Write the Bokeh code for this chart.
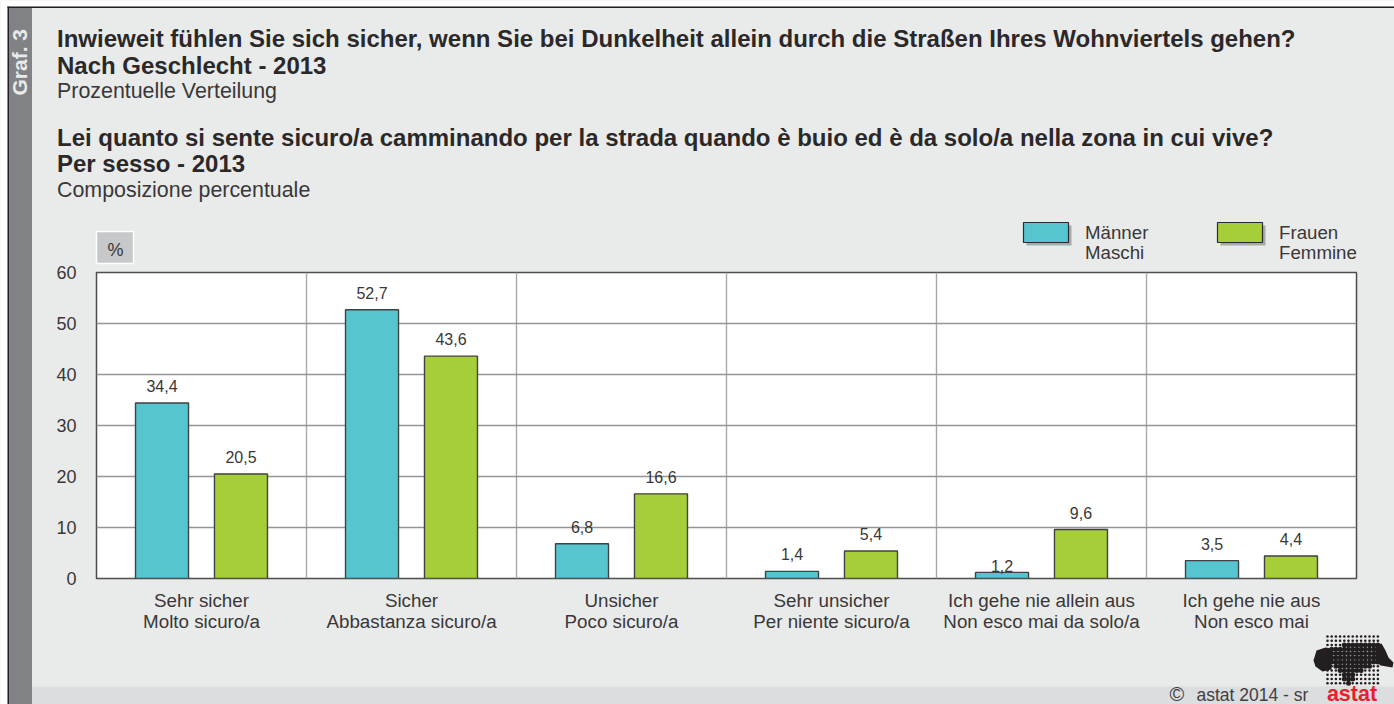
from bokeh.plotting import figure
from bokeh.layouts import column
from bokeh.models import ColumnDataSource, Range1d, FixedTicker
from bokeh.embed import file_html
from bokeh.resources import INLINE
from bokeh.core.properties import value

categories = ["Sehr sicher\nMolto sicuro/a", "Sicher\nAbbastanza sicuro/a", "Unsicher\nPoco sicuro/a",
              "Sehr unsicher\nPer niente sicuro/a", "Ich gehe nie allein aus\nNon esco mai da solo/a",
              "Ich gehe nie aus\nNon esco mai"]
maenner = [34.4, 52.7, 6.8, 1.4, 1.2, 3.5]
frauen = [20.5, 43.6, 16.6, 5.4, 9.6, 4.4]
y_ticks = [0, 10, 20, 30, 40, 50, 60]

FONT = "Liberation Sans"
INK = "#2b2829"
SOFT = "#3a3738"
TEAL = "#56c5d0"
GREEN = "#a6ce39"

# ---------- page backdrop: a figure whose frame is the whole page, in page pixels
bg = figure(width=1394, height=704, output_backend="svg", toolbar_location=None,
            x_range=Range1d(0, 1394), y_range=Range1d(704, 0),
            x_axis_location=None, y_axis_location=None, frame_align=False,
            min_border=0, background_fill_color="#e9ebea", border_fill_color="#e9ebea", outline_line_color=None)
bg.grid.visible = False


def box(l, r, t, b, color, line=None, lw=1):
    bg.quad(left=[l], right=[r], top=[t], bottom=[b], fill_color=color, line_color=line, line_width=lw)


def label(x, y, text, size, bold=False, color=SOFT, align="left", angle=0):
    bg.text(x=[x], y=[y], text=[text], text_font=value(FONT), text_font_size=f"{size}px",
            text_font_style="bold" if bold else "normal", text_color=color, text_align=align,
            text_baseline="middle", angle=angle, angle_units="deg")


box(0, 1394, 0, 6, "white")
box(0, 7, 0, 704, "white")
box(7, 1394, 6, 7.5, "#231f20")
box(7, 8.5, 6, 704, "#231f20")
box(8.5, 31.5, 7.5, 704, "#808285")
box(31.5, 1394, 686, 704, "#dcddde")
label(19, 95, "Graf. 3", 21, bold=True, color="#e9ebea", angle=90)

T = 24
label(56.5, 38, "Inwieweit fühlen Sie sich sicher, wenn Sie bei Dunkelheit allein durch die Straßen Ihres Wohnviertels gehen?", T, True, INK)
label(56.5, 65, "Nach Geschlecht - 2013", T, True, INK)
label(56.5, 90, "Prozentuelle Verteilung", 21.4)
label(56.5, 137, "Lei quanto si sente sicuro/a camminando per la strada quando è buio ed è da solo/a nella zona in cui vive?", T, True, INK)
label(56.5, 163, "Per sesso - 2013", T, True, INK)
label(56.5, 189, "Composizione percentuale", 21.4)

box(96, 133, 231, 263, "#c7c8ca", line="white", lw=1.5)
label(115, 249, "%", 18, align="center")

for x0, col, l1, l2 in ((1023, TEAL, "Männer", "Maschi"), (1217, GREEN, "Frauen", "Femmine")):
    box(x0 + 3, x0 + 48, 225, 245, "#a7a9ac")
    box(x0, x0 + 45, 222, 242, col, line="#2b2b2b", lw=1.2)
    label(x0 + 61.5, 232, l1, 18.7)
    label(x0 + 61.5, 252, l2, 18.7)

label(1169, 693, "©", 20, color="#414042")
label(1196, 694.5, "astat 2014 - sr", 17.5, color="#414042")

# logo
LOGO = "#231f20"
for xs, ys in (([1313, 1316, 1325, 1331, 1331, 1322, 1315], [660, 650, 647, 648, 669, 671, 666]),
               ([1375, 1381, 1385, 1388, 1393, 1392, 1380, 1375], [645, 643, 650, 657, 662, 667, 665, 660])):
    bg.patch(xs, ys, fill_color=LOGO, line_color=None)
spans = {2: (1340, 1378), 3: (1329, 1378), 4: (1329, 1378), 5: (1329, 1378), 6: (1329, 1378),
         7: (1333, 1372), 8: (1337, 1362), 9: (1341, 1356), 10: (1343, 1353), 11: (1345, 1351)}
dx, dy, ds = [], [], []
for r in range(12):
    for c in range(13):
        cx = 1327 + c * 4.2
        lo, hi = spans.get(r, (9999, 0))
        dx.append(cx)
        dy.append(636 + r * 4.25)
        ds.append(5 if lo <= cx <= hi else 2.6)
bg.scatter(dx, dy, size=ds, marker="circle", fill_color=LOGO, line_color=None)
label(1351.5, 693, "astat", 21.5, True, color="#ed1c2e", align="center")

# ---------- the chart itself, laid over the backdrop
p = figure(width=1394, height=704, output_backend="svg", toolbar_location=None,
           x_range=Range1d(0, 6), y_range=Range1d(0, 60), frame_align=False,
           min_border_left=96, min_border_right=38, min_border_top=272, min_border_bottom=126,
           background_fill_color="white", border_fill_color=None,
           outline_line_color="#4d4d4d", outline_line_width=1.5)
p.margin = (-704, 0, 0, 0)

p.xaxis.ticker = FixedTicker(ticks=[i + 0.5 for i in range(6)])
p.xaxis.major_label_overrides = {i + 0.5: c for i, c in enumerate(categories)}
p.yaxis.ticker = FixedTicker(ticks=y_ticks)
for ax in (p.xaxis[0], p.yaxis[0]):
    ax.axis_line_color = None
    ax.major_tick_line_color = None
    ax.minor_tick_line_color = None
    ax.major_label_text_font = FONT
    ax.major_label_text_color = SOFT
    ax.major_label_text_font_size = "18px"
p.xaxis.major_label_text_font_size = "18.8px"
p.xaxis.major_label_text_line_height = 1.0
p.yaxis.major_label_standoff = 14
p.xaxis.major_label_standoff = 5

p.xgrid.ticker = FixedTicker(ticks=[1, 2, 3, 4, 5])
p.ygrid.ticker = FixedTicker(ticks=y_ticks)
p.xgrid.grid_line_color = "#a7a9ac"
p.xgrid.grid_line_width = 1.4
p.ygrid.grid_line_color = "#939598"
p.ygrid.grid_line_width = 1.3

off = 0.188
src = ColumnDataSource(dict(
    xm=[i + 0.5 - off for i in range(6)], xf=[i + 0.5 + off for i in range(6)],
    m=maenner, f=frauen,
    lm=[f"{v:.1f}".replace(".", ",") for v in maenner],
    lf=[f"{v:.1f}".replace(".", ",") for v in frauen],
    om=[-11, -11, -11, -11, 0, -11], of=[-11] * 6))
for xc, yc, col, lab, oc in (("xm", "m", TEAL, "lm", "om"), ("xf", "f", GREEN, "lf", "of")):
    p.vbar(x=xc, top=yc, bottom=0, width=0.2524, source=src, fill_color=col,
           line_color="#414042", line_width=1.4)
    p.text(x=xc, y=yc, text=lab, source=src, text_align="center", text_baseline="bottom",
           y_offset=oc, text_font=value(FONT), text_font_size="16px", text_color=SOFT)

page = column(bg, p, spacing=0, width=1394, height=704)
page.styles = {"position": "absolute", "left": "0px", "top": "0px"}

open("out.html", "w").write(file_html(page, INLINE))
